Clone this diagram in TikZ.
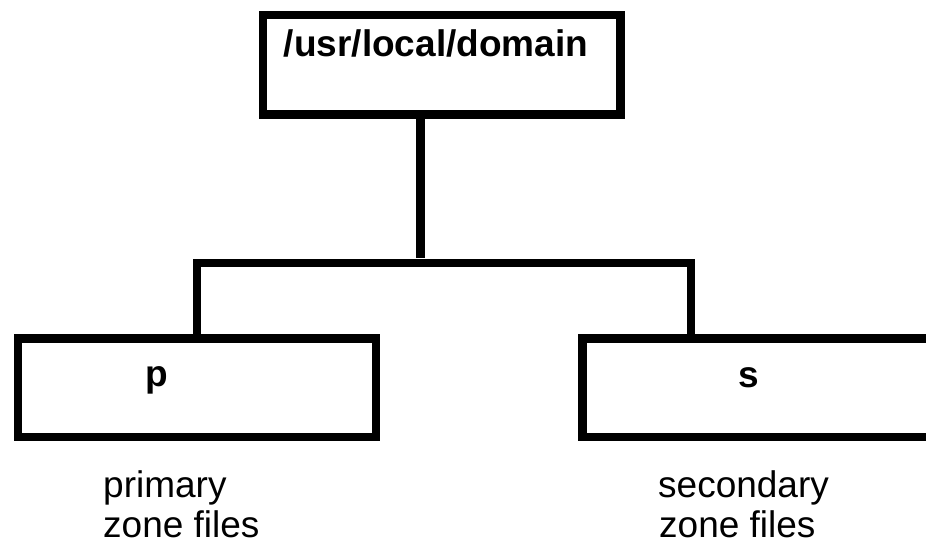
\documentclass[tikz,border=0pt]{standalone}
\usepackage{fontspec}
\setmainfont{Liberation Sans}
\begin{document}
\begin{tikzpicture}[x=1pt,y=-1pt,
  box/.style={draw=black, line width=8.5pt, rectangle, inner sep=0pt, anchor=north west},
  wire/.style={draw=black, line width=8.5pt},
  boldlabel/.style={font=\fontsize{37}{44}\selectfont\bfseries, inner sep=0pt, anchor=base},
  note/.style={font=\fontsize{37}{40}\selectfont, inner sep=0pt, anchor=base west}]
  \useasboundingbox (0,0) rectangle (926,543);
  \clip (0,0) rectangle (926,543);

  % directory boxes
  \node[box, minimum width=357.5pt, minimum height=99pt] (top) at (258.5,11) {};
  \node[box, minimum width=358pt, minimum height=98.5pt] (p) at (13.5,334) {};
  \node[box, minimum width=358pt, minimum height=98.5pt] (s) at (578,334) {};

  % box labels
  \node[boldlabel] (toplabel) at (436,57) {/usr/local/domain};
  \node[boldlabel] (plabel) at (157,386) {p};
  \node[boldlabel] (slabel) at (749,387) {s};

  % tree connectors
  \coordinate (bus) at (420.5,263);
  \coordinate (sj) at (691,334);
  \draw[wire] (top.south -| bus) -- ([yshift=5pt]bus);
  \draw[wire] (p.north) |- (bus) -| (sj);

  % captions
  \node[note] (pcap1) at (103,497) {primary};
  \node[note] (pcap2) at (103,537) {zone files};
  \node[note] (scap1) at (658,497) {secondary};
  \node[note] (scap2) at (659,537) {zone files};
\end{tikzpicture}
\end{document}
